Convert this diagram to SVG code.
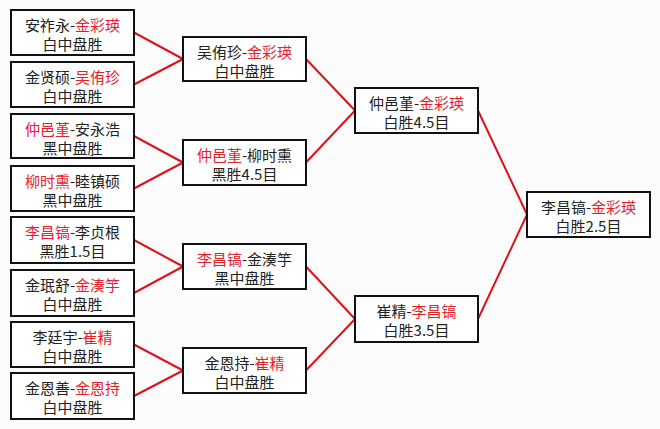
<svg xmlns="http://www.w3.org/2000/svg" width="660" height="429" viewBox="0 0 660 429">
<style>
.b{fill:#fff;stroke:#111;stroke-width:2}
.t{font-family:"Noto Sans CJK SC","Noto Sans",sans-serif;font-size:15px;fill:#222;text-anchor:middle}
.r{fill:#e3222b}
.c{fill:none;stroke:#e0101a;stroke-width:2}
</style>
<rect width="660" height="429" fill="#fcfcfc"/>
<g id="connectors">
<path class="c" d="M134,32.5L183,59M134,84.5L183,59M134,136L183,162.5M134,188.5L183,162.5M134,240L183,266.5M134,293L183,266.5M134,344.5L183,370.5M134,396L183,370.5M306,59L355,110.5M306,162.5L355,110.5M306,266.5L355,319M306,370.5L355,319M478,110.5L527,214.5M478,319L527,214.5"/>
</g>
<g id="r1a"><rect class="b" x="11" y="10" width="123" height="45"/><text class="t" x="72.5" y="31">安祚永-<tspan class="r">金彩瑛</tspan></text><text class="t" x="72.5" y="50">白中盘胜</text></g>
<g id="r1b"><rect class="b" x="11" y="62" width="123" height="45"/><text class="t" x="72.5" y="83">金贤硕-<tspan class="r">吴侑珍</tspan></text><text class="t" x="72.5" y="102">白中盘胜</text></g>
<g id="r1c"><rect class="b" x="11" y="114" width="123" height="44"/><text class="t" x="72.5" y="135"><tspan class="r">仲邑堇</tspan>-安永浩</text><text class="t" x="72.5" y="154">黑中盘胜</text></g>
<g id="r1d"><rect class="b" x="11" y="166" width="123" height="45"/><text class="t" x="72.5" y="187"><tspan class="r">柳时熏</tspan>-睦镇硕</text><text class="t" x="72.5" y="206">黑中盘胜</text></g>
<g id="r1e"><rect class="b" x="11" y="217" width="123" height="46"/><text class="t" x="72.5" y="238"><tspan class="r">李昌镐</tspan>-李贞根</text><text class="t" x="72.5" y="257">黑胜1.5目</text></g>
<g id="r1f"><rect class="b" x="11" y="270" width="123" height="46"/><text class="t" x="72.5" y="291">金珉舒-<tspan class="r">金湊竽</tspan></text><text class="t" x="72.5" y="310">白中盘胜</text></g>
<g id="r1g"><rect class="b" x="11" y="322" width="123" height="45"/><text class="t" x="72.5" y="343">李廷宇-<tspan class="r">崔精</tspan></text><text class="t" x="72.5" y="362">白中盘胜</text></g>
<g id="r1h"><rect class="b" x="11" y="373" width="123" height="46"/><text class="t" x="72.5" y="394">金恩善-<tspan class="r">金恩持</tspan></text><text class="t" x="72.5" y="413">白中盘胜</text></g>
<g id="r2a"><rect class="b" x="183" y="37" width="123" height="44"/><text class="t" x="244.5" y="58">吴侑珍-<tspan class="r">金彩瑛</tspan></text><text class="t" x="244.5" y="77">白中盘胜</text></g>
<g id="r2b"><rect class="b" x="183" y="140" width="123" height="45"/><text class="t" x="244.5" y="161"><tspan class="r">仲邑堇</tspan>-柳时熏</text><text class="t" x="244.5" y="180">黑胜4.5目</text></g>
<g id="r2c"><rect class="b" x="183" y="244" width="123" height="45"/><text class="t" x="244.5" y="265"><tspan class="r">李昌镐</tspan>-金湊竽</text><text class="t" x="244.5" y="284">黑中盘胜</text></g>
<g id="r2d"><rect class="b" x="183" y="348" width="123" height="45"/><text class="t" x="244.5" y="369">金恩持-<tspan class="r">崔精</tspan></text><text class="t" x="244.5" y="388">白中盘胜</text></g>
<g id="r3a"><rect class="b" x="355" y="88" width="123" height="45"/><text class="t" x="416.5" y="109">仲邑堇-<tspan class="r">金彩瑛</tspan></text><text class="t" x="416.5" y="128">白胜4.5目</text></g>
<g id="r3b"><rect class="b" x="355" y="296" width="123" height="46"/><text class="t" x="416.5" y="317">崔精-<tspan class="r">李昌镐</tspan></text><text class="t" x="416.5" y="336">白胜3.5目</text></g>
<g id="final"><rect class="b" x="527" y="192" width="123" height="45"/><text class="t" x="588.5" y="213">李昌镐-<tspan class="r">金彩瑛</tspan></text><text class="t" x="588.5" y="232">白胜2.5目</text></g>
</svg>
